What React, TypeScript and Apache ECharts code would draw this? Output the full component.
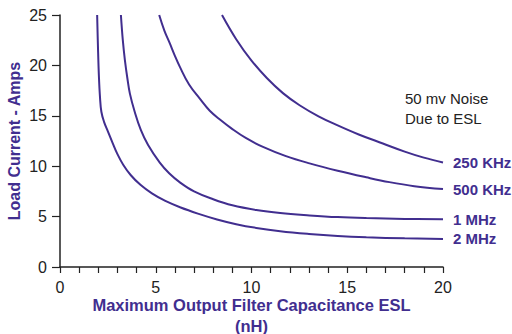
import React, { useEffect, useRef } from "react";
import * as echarts from "echarts";

// Load current vs. maximum output filter capacitance ESL, one curve per switching frequency
const seriesNames = ["250 KHz", "500 KHz", "1 MHz", "2 MHz"];

const khz250: [number, number][] = [
  [8.46, 25], [9.2, 22.6], [9.99, 20.5], [10.8, 18.75], [11.64, 17.25], [12.51, 16.05],
  [13.5, 14.95], [14.5, 14.05], [15.6, 13.15], [16.86, 12.25], [18.0, 11.45], [19.0, 10.85],
  [20, 10.37],
];
const khz500: [number, number][] = [
  [5.18, 25], [5.45, 23.45], [5.73, 22.2], [6.0, 20.95], [6.26, 19.85], [6.74, 18.1],
  [7.3, 16.7], [7.82, 15.5], [8.4, 14.55], [8.95, 13.75], [9.7, 12.8], [10.6, 11.92],
  [11.8, 11.0], [13.03, 10.28], [14.5, 9.55], [15.99, 8.9], [17.2, 8.42], [18.5, 8.02],
  [20, 7.73],
];
const mhz1: [number, number][] = [
  [3.18, 25], [3.28, 22.5], [3.39, 20.5], [3.52, 18.7], [3.65, 17.2], [3.9, 15.4],
  [4.22, 13.6], [4.6, 12.1], [5.21, 10.35], [5.7, 9.3], [6.26, 8.4], [7.0, 7.5],
  [8.0, 6.72], [9.0, 6.12], [10.25, 5.65], [11.5, 5.35], [13.03, 5.12], [14.5, 4.95],
  [16, 4.85], [18, 4.77], [20, 4.73],
];
const mhz2: [number, number][] = [
  [1.94, 25], [1.98, 22], [2.03, 19], [2.09, 16.8], [2.16, 15.4], [2.3, 14.4],
  [2.5, 13.45], [2.75, 12.3], [3.0, 11.2], [3.3, 10.15], [3.7, 9.1], [4.2, 8.15],
  [4.8, 7.3], [5.5, 6.55], [6.3, 5.9], [7.2, 5.3], [8.2, 4.72], [9.2, 4.25],
  [10.25, 3.88], [11.5, 3.55], [13.0, 3.28], [14.5, 3.08], [16, 2.95], [18, 2.84],
  [20, 2.78],
];
const curveData = [khz250, khz500, mhz1, mhz2];

const xTicks = [0, 5, 10, 15, 20];
const yTicks = [0, 5, 10, 15, 20, 25];

const PURPLE = "#412e8f";
const INK = "#222222";
const FONT = "Liberation Sans, Arial, sans-serif";

export default function App() {
  const ref = useRef<HTMLDivElement>(null);

  useEffect(() => {
    if (!ref.current) return;
    const chart = echarts.init(ref.current, undefined, { renderer: "svg" });

    chart.setOption({
      animation: false,
      grid: {
        left: 60,
        right: 69,
        top: 15,
        bottom: 67,
        containLabel: false,
        outerBoundsMode: "none",
      },
      xAxis: [
        {
          type: "value",
          min: xTicks[0],
          max: xTicks[xTicks.length - 1],
          interval: 5,
          name: "Maximum Output Filter Capacitance ESL\n(nH)",
          nameLocation: "middle",
          nameGap: 27,
          nameMoveOverlap: false,
          nameTextStyle: {
            color: PURPLE,
            fontWeight: "bold",
            fontSize: 16.5,
            fontFamily: FONT,
            lineHeight: 21,
          },
          axisLine: { show: true, lineStyle: { color: INK, width: 1.5 } },
          axisTick: { show: false },
          axisLabel: { color: INK, fontSize: 16, fontFamily: FONT, margin: 12 },
          splitLine: { show: false },
        },
        {
          // minor tick row, set slightly below the axis line
          type: "value",
          position: "bottom",
          offset: 3,
          min: 0,
          max: 20,
          interval: 1,
          axisLine: { show: false },
          axisTick: { show: true, length: 6, lineStyle: { color: INK, width: 1.2 } },
          axisLabel: { show: false },
          splitLine: { show: false },
        },
      ],
      yAxis: [
        {
          type: "value",
          min: yTicks[0],
          max: yTicks[yTicks.length - 1],
          interval: 5,
          name: "Load Current - Amps",
          nameLocation: "middle",
          nameGap: 38,
          nameMoveOverlap: false,
          nameTextStyle: {
            color: PURPLE,
            fontWeight: "bold",
            fontSize: 16,
            fontFamily: FONT,
          },
          axisLine: { show: true, lineStyle: { color: INK, width: 1.5 } },
          axisTick: { show: false },
          axisLabel: { color: INK, fontSize: 16, fontFamily: FONT, margin: 13 },
          splitLine: { show: false },
        },
        {
          type: "value",
          position: "left",
          offset: 3,
          min: 0,
          max: 25,
          interval: 5,
          axisLine: { show: false },
          axisTick: { show: true, length: 8, lineStyle: { color: INK, width: 1.2 } },
          axisLabel: { show: false },
          splitLine: { show: false },
        },
      ],
      series: seriesNames.map((name, i) => ({
        name,
        type: "line",
        data: curveData[i],
        smooth: 0.4,
        showSymbol: false,
        symbol: "none",
        clip: true,
        lineStyle: { color: PURPLE, width: 2 },
        endLabel: {
          show: true,
          formatter: "{a}",
          color: PURPLE,
          fontWeight: "bold",
          fontSize: 15,
          fontFamily: FONT,
          distance: 10,
        },
      })),
      graphic: [
        {
          type: "text",
          left: 405,
          top: 88,
          style: {
            text: "50 mv Noise\nDue to ESL",
            fill: INK,
            fontSize: 15,
            fontFamily: FONT,
            lineHeight: 20,
          },
        },
      ],
    });

    return () => chart.dispose();
  }, []);

  return <div ref={ref} style={{ width: 512, height: 334, position: "absolute", left: 0, top: 0 }} />;
}
